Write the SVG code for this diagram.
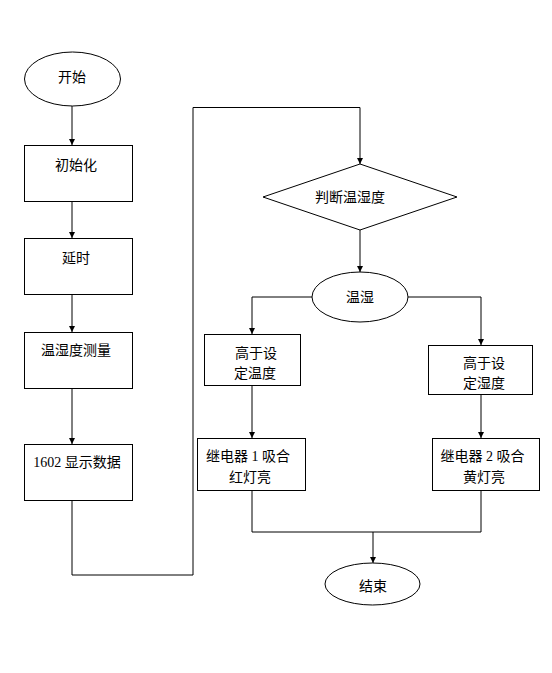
<svg xmlns="http://www.w3.org/2000/svg" width="552" height="673" viewBox="0 0 552 673">
<style>
.s{fill:#fff;stroke:#000;stroke-width:1}
.c{fill:none;stroke:#000;stroke-width:1}
text{font-family:"Liberation Serif","Noto Sans CJK SC",serif;font-size:14px;fill:#000;text-anchor:middle}
</style>
<defs>
<marker id="a" markerWidth="8" markerHeight="8" refX="3" refY="6" orient="auto" markerUnits="userSpaceOnUse" viewBox="0 0 6 6">
<path d="M0,0 L6,0 L3,6 Z" fill="#000" transform="rotate(-90 3 3)"/>
</marker>
<marker id="b" markerWidth="6" markerHeight="6" refX="6" refY="3" orient="auto" markerUnits="userSpaceOnUse" viewBox="0 0 6 6">
<path d="M0,0 L6,3 L0,6 Z" fill="#000"/>
</marker>
</defs>
<rect width="552" height="673" fill="#fff"/>
<g id="connectors">
<path class="c" d="M72,106 V145" marker-end="url(#b)"/>
<path class="c" d="M72,201 V238" marker-end="url(#b)"/>
<path class="c" d="M72,294 V332" marker-end="url(#b)"/>
<path class="c" d="M72,388 V444" marker-end="url(#b)"/>
<path class="c" d="M72,500 V575 H193 V107.5 H360 V164" marker-end="url(#b)"/>
<path class="c" d="M360,230 V272" marker-end="url(#b)"/>
<path class="c" d="M312,297 H252 V334" marker-end="url(#b)"/>
<path class="c" d="M408,297 H481 V345" marker-end="url(#b)"/>
<path class="c" d="M252,386 V438" marker-end="url(#b)"/>
<path class="c" d="M481,394 V438" marker-end="url(#b)"/>
<path class="c" d="M252,490 V532 H481 V490"/>
<path class="c" d="M373,532 V563" marker-end="url(#b)"/>
</g>
<g id="start">
<ellipse class="s" cx="72.5" cy="79" rx="48" ry="27"/>
<text x="72" y="82">开始</text>
</g>
<g id="init">
<rect class="s" x="24.5" y="145.5" width="108" height="56"/>
<text x="76" y="170">初始化</text>
</g>
<g id="delay">
<rect class="s" x="24.5" y="238.5" width="108" height="56"/>
<text x="76" y="263">延时</text>
</g>
<g id="measure">
<rect class="s" x="24.5" y="332.5" width="108" height="56"/>
<text x="76" y="355">温湿度测量</text>
</g>
<g id="display">
<rect class="s" x="24.5" y="444.5" width="108" height="56"/>
<text x="77" y="467">1602 显示数据</text>
</g>
<g id="judge">
<polygon class="s" points="360,164 457,197 360,230 263,197"/>
<text x="350" y="202">判断温湿度</text>
</g>
<g id="th">
<ellipse class="s" cx="360" cy="297" rx="48" ry="25"/>
<text x="360" y="302">温湿</text>
</g>
<g id="hightemp">
<rect class="s" x="204.5" y="334.5" width="96" height="51"/>
<text x="256" y="358">高于设</text>
<text x="255" y="378">定温度</text>
</g>
<g id="highhum">
<rect class="s" x="428.5" y="345.5" width="104" height="49"/>
<text x="484" y="368">高于设</text>
<text x="484" y="388">定湿度</text>
</g>
<g id="relay1">
<rect class="s" x="197.5" y="438.5" width="108" height="52"/>
<text x="248" y="461">继电器 1 吸合</text>
<text x="250" y="482">红灯亮</text>
</g>
<g id="relay2">
<rect class="s" x="432.5" y="438.5" width="107" height="52"/>
<text x="482.5" y="461">继电器 2 吸合</text>
<text x="484" y="482">黄灯亮</text>
</g>
<g id="end">
<ellipse class="s" cx="372.5" cy="584" rx="47.5" ry="21"/>
<text x="373" y="591">结束</text>
</g>
</svg>
